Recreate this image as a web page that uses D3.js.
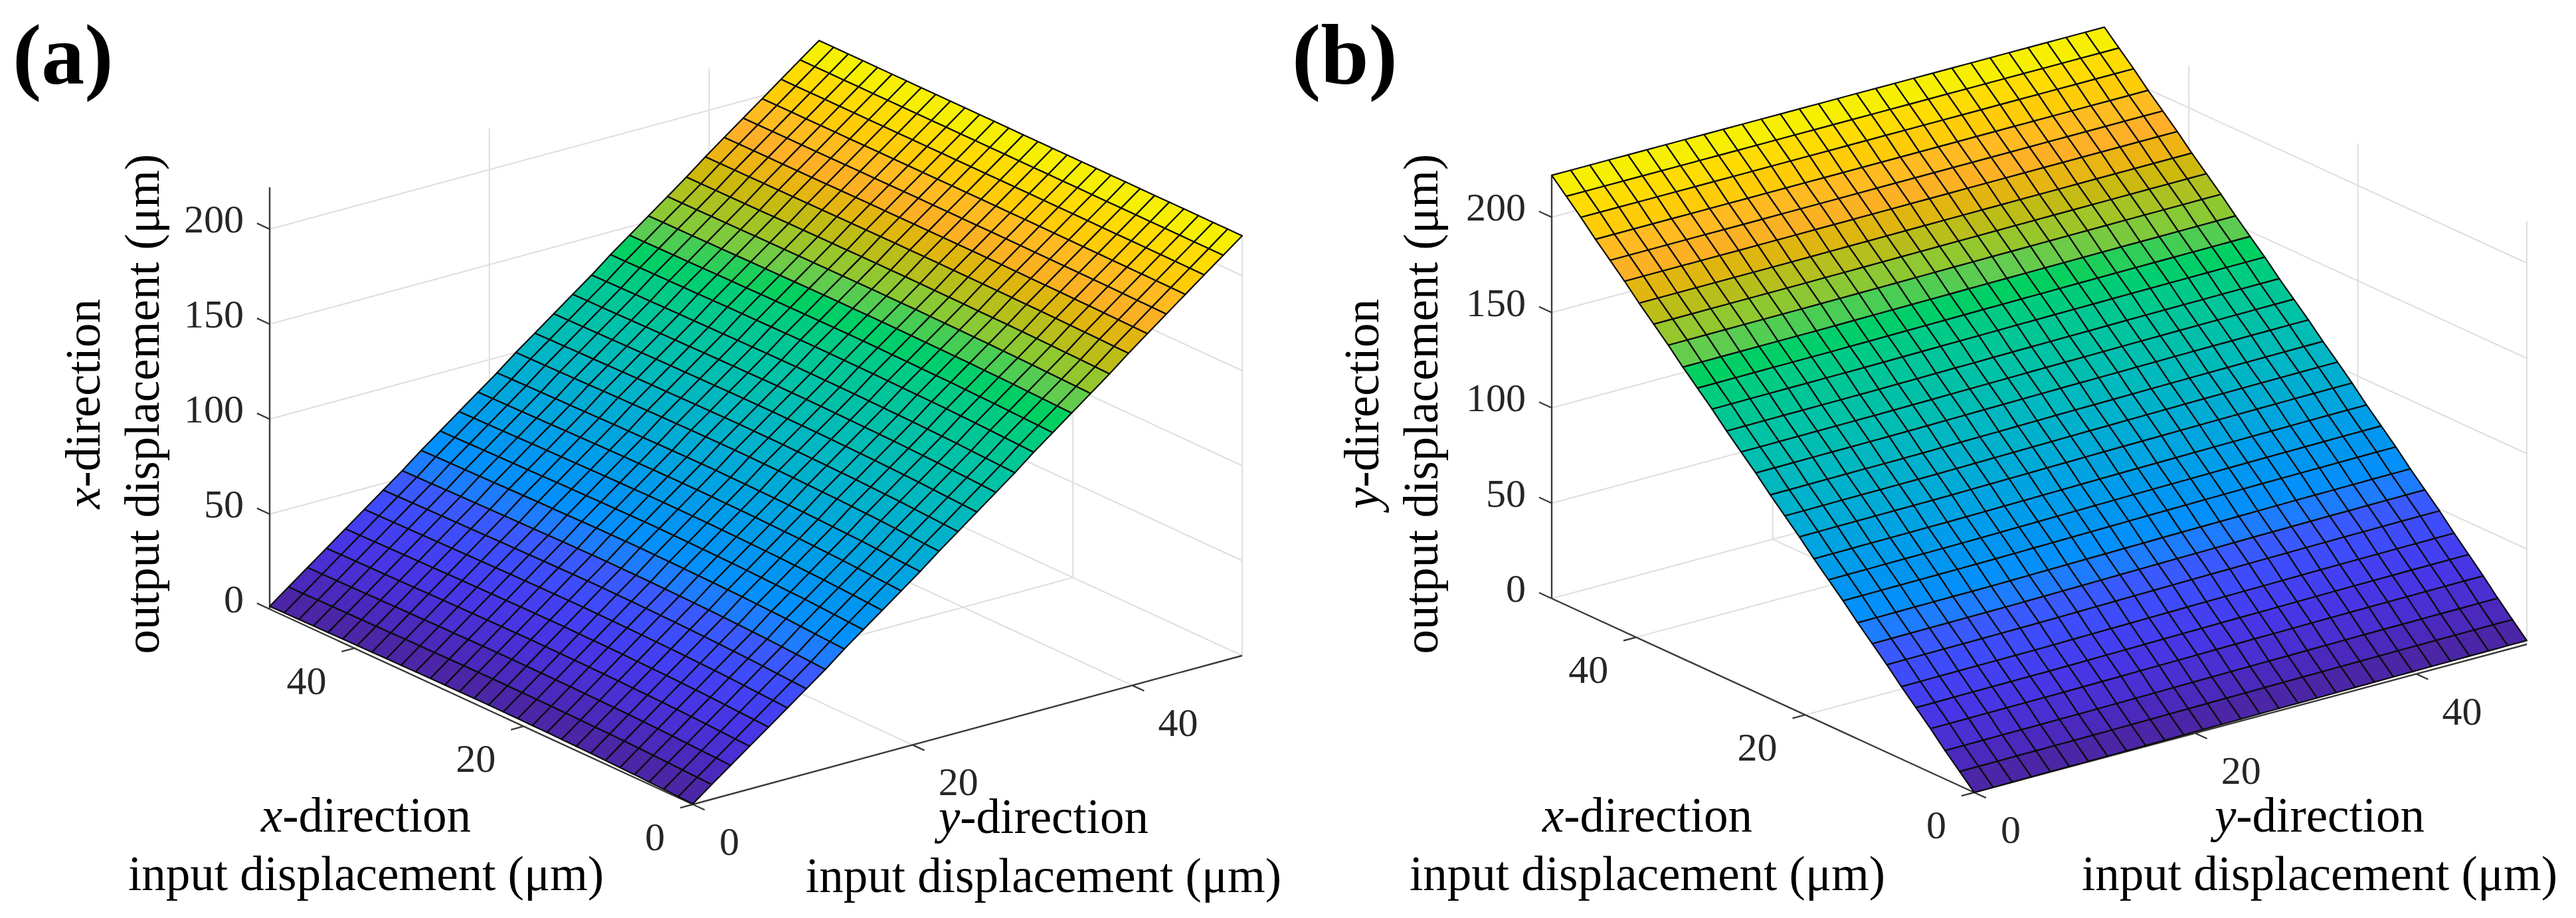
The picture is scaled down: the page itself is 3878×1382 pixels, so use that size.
<!DOCTYPE html>
<html>
<head>
<meta charset="utf-8">
<title>Output displacement surfaces</title>
<script src="https://cdn.jsdelivr.net/npm/d3@7"></script>
<style>
  html, body { margin: 0; padding: 0; background: #fff; }
  text { font-family: "Liberation Serif", "Times New Roman", serif; }
</style>
</head>
<body>
<div id="chart"></div>
<script>
// grid of input displacement (um), same for both horizontal directions
const gridStops = [0, 1.72, 3.45, 5.17, 6.9, 8.62, 10.34, 12.07, 13.79, 15.52, 17.24, 18.97, 20.69, 22.41, 24.14,
    25.86, 27.59, 29.31, 31.03, 32.76, 34.48, 36.21, 37.93, 39.66, 41.38, 43.1, 44.83, 46.55, 48.28, 50];

// output displacement along each mesh row (um)
const rowZA = [1.5, 9, 16.5, 24, 31.5, 39, 46.5, 54, 62, 69.5, 77, 84.5, 92, 100, 107.5, 115, 122.5, 130, 138, 145.5,
    153, 160.5, 168, 176, 183.5, 191, 198.5, 206, 213.5, 221];
const rowZB = [0, 7.5, 15, 23, 30.5, 38, 46, 53.5, 61, 69, 76.5, 84, 92, 99.5, 107, 115, 122.5, 130, 138, 145.5,
    153, 161, 168.5, 176, 184, 191.5, 199, 207, 214.5, 222];

// deviation of a row from straight, over the columns, scaled by rowBow
const colBowA = [-0.6, -0.45, -0.3, -0.15, 0, 0.1, 0.2, 0.3, 0.36, 0.42, 0.48, 0.52, 0.56, 0.58, 0.6, 0.6, 0.58, 0.55,
    0.52, 0.48, 0.44, 0.4, 0.35, 0.3, 0.25, 0.2, 0.15, 0.1, 0.05, 0];
const colBowB = [0, 0.02, 0.05, 0.08, 0.1, 0.12, 0.14, 0.16, 0.2, 0.25, 0.3, 0.35, 0.4, 0.45, 0.5, 0.55, 0.6, 0.64,
    0.68, 0.72, 0.76, 0.8, 0.84, 0.87, 0.9, 0.92, 0.95, 0.97, 0.99, 1];
const rowBow = [2, 2, 2.2, 2.4, 2.6, 2.8, 3, 3, 3, 3, 3, 3, 3, 3, 2.8, 2.6, 2.4, 2.2, 2, 1.8, 1.6, 1.4, 1.2, 1, 0.8,
    0.6, 0.4, 0.2, 0.1, 0];

// colour bands of the surface, one per row of cells from z = 0 upward
const bandColors = ["#4b26a6", "#4a29bc", "#4a2fd2", "#4836e4", "#4440f2", "#3f4cfb", "#3a5aff", "#1e7cff", "#0490fa",
    "#0096f0", "#009ee8", "#00a6dc", "#00aed0", "#00b6c4", "#00bcb4", "#00c2a6", "#00c696", "#00cc80", "#00d060",
    "#60cc50", "#90c830", "#b0c020", "#d0b80c", "#eeb414", "#ffb028", "#ffbc20", "#ffcc08", "#ffdc00", "#f6f000"];

// the bands slide over the columns by this many rows
const colLag = [1, 1.08, 1.15, 1.22, 1.28, 1.32, 1.36, 1.38, 1.4, 1.4, 1.4, 1.38, 1.35, 1.3, 1.25, 1.2, 1.12, 1.05,
    0.98, 0.9, 0.8, 0.7, 0.6, 0.5, 0.4, 0.3, 0.2, 0.12, 0.05, 0];
const rowLag = [0, 0, 0, 0, 0, 0, 0, 0, 0, 0.1, 0.2, 0.3, 0.4, 0.5, 0.6, 0.7, 0.8, 0.9, 1, 1, 0.9, 0.8, 0.6, 0.4, 0.2,
    0.1, 0, 0, 0];

const xTicks = [0, 20, 40];
const yTicks = [0, 20, 40];
const zTicks = [0, 50, 100, 150, 200];
const xyMax = 50;
const zMax = 222;

const svg = d3.select("#chart").append("svg")
    .attr("width", 3878)
    .attr("height", 1382);

const pathOf = d3.line();

function drawPanel(cfg) {
    const g = svg.append("g");

    // oblique projection: every data axis has its own screen scale
    const xPx = d3.scaleLinear().domain([0, xyMax]).range([0, cfg.xEnd[0]]);
    const xPy = d3.scaleLinear().domain([0, xyMax]).range([0, cfg.xEnd[1]]);
    const yPx = d3.scaleLinear().domain([0, xyMax]).range([0, cfg.yEnd[0]]);
    const yPy = d3.scaleLinear().domain([0, xyMax]).range([0, cfg.yEnd[1]]);
    const zPy = d3.scaleLinear().domain([0, zMax]).range([0, -zMax * cfg.zUnit]);
    const project = (x, y, z) => [
        cfg.origin[0] + xPx(x) + yPx(y),
        cfg.origin[1] + xPy(x) + yPy(y) + zPy(z)
    ];

    // back walls and floor
    const gridSegs = [];
    zTicks.forEach(z => {
        gridSegs.push([project(xyMax, 0, z), project(xyMax, xyMax, z)]);
        gridSegs.push([project(xyMax, xyMax, z), project(0, xyMax, z)]);
    });
    xTicks.forEach(x => {
        gridSegs.push([project(x, xyMax, 0), project(x, xyMax, zMax)]);
        if (x > 0) gridSegs.push([project(x, 0, 0), project(x, xyMax, 0)]);
    });
    yTicks.forEach(y => {
        if (y > 0) {
            gridSegs.push([project(xyMax, y, 0), project(xyMax, y, zMax)]);
            gridSegs.push([project(0, y, 0), project(xyMax, y, 0)]);
        }
    });
    g.append("g").selectAll("path")
        .data(gridSegs)
        .join("path")
        .attr("d", d => pathOf(d))
        .attr("fill", "none")
        .attr("stroke", "#dedede")
        .attr("stroke-width", 2);

    // axis lines and ticks
    const axisSegs = [
        [project(xyMax, 0, 0), project(xyMax, 0, zMax)],
        [project(0, 0, 0), project(xyMax, 0, 0)],
        [project(0, 0, 0), project(0, xyMax, 0)]
    ];
    zTicks.forEach(z => axisSegs.push([project(xyMax, 0, z), project(xyMax + 1.5, 0, z)]));
    xTicks.forEach(x => axisSegs.push([project(x, 0, 0), project(x, -1.15, 0)]));
    yTicks.forEach(y => axisSegs.push([project(0, y, 0), project(-1.4, y, 0)]));
    g.append("g").selectAll("path")
        .data(axisSegs)
        .join("path")
        .attr("d", d => pathOf(d))
        .attr("fill", "none")
        .attr("stroke", "#3a3a3a")
        .attr("stroke-width", 2.4);

    // surface height at a mesh node
    const height = cfg.height;
    const colorScale = d3.scaleLinear()
        .domain(d3.pairs(cfg.rowZ, (a, b) => (a + b) / 2))
        .range(bandColors)
        .clamp(true);

    const cells = [];
    d3.range(gridStops.length - 1).forEach(i => {
        d3.range(gridStops.length - 1).forEach(j => {
            const corners = [[i, j], [i, j + 1], [i + 1, j + 1], [i + 1, j]];
            const pts = corners.map(([r, c]) => project(cfg.nodeX(r, c), cfg.nodeY(r, c), height(r, c)));
            const lagZ = colLag[j] * rowLag[i] * 7.6;
            const level = (cfg.rowZ[i] + cfg.rowZ[i + 1]) / 2 - lagZ;
            cells.push({ pts, level });
        });
    });
    g.append("g").selectAll("path")
        .data(cells)
        .join("path")
        .attr("d", d => pathOf(d.pts) + "Z")
        .attr("fill", d => colorScale(d.level))
        .attr("stroke", "#0c0c0c")
        .attr("stroke-width", 2.2)
        .attr("stroke-linejoin", "round");

    // tick labels
    const tickFont = 60;
    g.append("g").selectAll("text")
        .data(zTicks)
        .join("text")
        .attr("x", d => project(xyMax, 0, d)[0] - 39)
        .attr("y", d => project(xyMax, 0, d)[1] + 5)
        .attr("text-anchor", "end")
        .attr("font-size", tickFont)
        .attr("fill", "#262626")
        .text(d => d);
    g.append("g").selectAll("text")
        .data(xTicks)
        .join("text")
        .attr("x", d => project(d, 0, 0)[0] + (d === 0 ? -57 : -72))
        .attr("y", d => project(d, 0, 0)[1] + 69)
        .attr("text-anchor", "middle")
        .attr("font-size", tickFont)
        .attr("fill", "#262626")
        .text(d => d);
    g.append("g").selectAll("text")
        .data(yTicks)
        .join("text")
        .attr("x", d => project(0, d, 0)[0] + (d === 0 ? 55 : 69))
        .attr("y", d => project(0, d, 0)[1] + 76)
        .attr("text-anchor", "middle")
        .attr("font-size", tickFont)
        .attr("fill", "#262626")
        .text(d => d);

    // axis titles
    const labelFont = 73;
    const twoLine = (x, y, letter, second, rotate) => {
        const t = g.append("g").attr("transform", rotate
            ? `translate(${x},608) rotate(-90)`
            : `translate(${x},0)`);
        const line1 = t.append("text")
            .attr("text-anchor", "middle")
            .attr("font-size", labelFont)
            .attr("y", y[0]);
        line1.append("tspan").attr("font-style", "italic").text(letter);
        line1.append("tspan").text("-direction");
        t.append("text")
            .attr("text-anchor", "middle")
            .attr("font-size", labelFont)
            .attr("y", y[1])
            .text(second);
    };
    twoLine(cfg.xLabelX, [1252, 1340], "x", "input displacement (μm)", false);
    twoLine(cfg.yLabelX, cfg.yLabelY, "y", "input displacement (μm)", false);
    twoLine(cfg.zLabelX, [0, 89], cfg.zLetter, "output displacement (μm)", true);

    g.append("text")
        .attr("x", cfg.tagX)
        .attr("y", 126)
        .attr("font-size", 130)
        .attr("font-weight", "bold")
        .text(cfg.tag);
}

drawPanel({
    tag: "(a)", tagX: 19,
    origin: [1043, 1211], xEnd: [-637, -294], yEnd: [827, -224], zUnit: 2.86,
    rowZ: rowZA,
    nodeX: (r, c) => gridStops[c],
    nodeY: (r, c) => gridStops[r],
    height: (r, c) => rowZA[r] + colBowA[c] * rowBow[r],
    xLabelX: 551, yLabelX: 1571, yLabelY: [1254, 1343],
    zLabelX: 150, zLetter: "x"
});

drawPanel({
    tag: "(b)", tagX: 1945,
    origin: [2972, 1193], xEnd: [-636, -292], yEnd: [832, -223], zUnit: 2.87,
    rowZ: rowZB,
    nodeX: (r, c) => gridStops[r],
    nodeY: (r, c) => gridStops[c],
    height: (r, c) => rowZB[r] + colBowB[c] * rowBow[r],
    xLabelX: 2480, yLabelX: 3492, yLabelY: [1252, 1340],
    zLabelX: 2075, zLetter: "y"
});
</script>
</body>
</html>
